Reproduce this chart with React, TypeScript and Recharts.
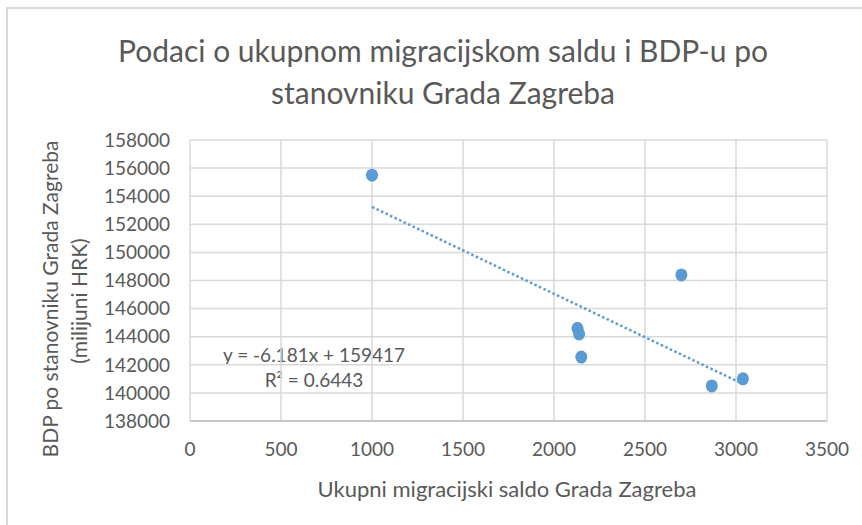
import { CartesianGrid, ReferenceLine, Scatter, ScatterChart, XAxis, YAxis } from "recharts";

const migrationBalance = [1000, 2700, 2129, 2138, 2150, 2867, 3038];
const gdpPerCapita = [155500, 148400, 144600, 144200, 142550, 140500, 141000];
const xTicks = [0, 500, 1000, 1500, 2000, 2500, 3000, 3500];
const yTicks = [138000, 140000, 142000, 144000, 146000, 148000, 150000, 152000, 154000, 156000, 158000];
const trendSlope = -6.181;
const trendIntercept = 159417;
const rSquared = "0.6443";

const FONT = "Lato, 'Open Sans', sans-serif";
const TEXT = "#595959";
const BLUE = "#5B9BD5";

const data = migrationBalance.map((x, i) => ({ x, y: gdpPerCapita[i] }));
const xMin = Math.min(...migrationBalance);
const xMax = Math.max(...migrationBalance);
const trend = [
  { x: xMin, y: trendSlope * xMin + trendIntercept },
  { x: xMax, y: trendSlope * xMax + trendIntercept },
];

const Dot = (props: any) => <ellipse cx={props.cx} cy={props.cy} rx={6} ry={6.5} fill={BLUE} />;

const YTitle = () => (
  <g fill={TEXT} fontFamily={FONT} fontSize={21}>
    <text transform="translate(49,299) rotate(-90)" textAnchor="middle" dominantBaseline="central">
      BDP po stanovniku Grada Zagreba
    </text>
    <text transform="translate(78,301) rotate(-90)" textAnchor="middle" dominantBaseline="central">
      (milijuni HRK)
    </text>
  </g>
);

const XTitle = () => (
  <text x={507} y={488} textAnchor="middle" dominantBaseline="central" fill={TEXT} fontFamily={FONT} fontSize={22}>
    Ukupni migracijski saldo Grada Zagreba
  </text>
);

export default function App() {
  return (
    <div style={{ position: "absolute", left: 0, top: 0, width: 862, height: 525, overflow: "hidden", background: "#fff" }}>
      <div style={{ position: "absolute", left: 6, top: 7, width: 900, height: 600, borderLeft: "2px solid #d9d9d9", borderTop: "2px solid #d9d9d9" }} />
      <div style={{ position: "absolute", left: 0, width: 886, top: 29, textAlign: "center", color: TEXT, fontFamily: FONT, fontSize: 30, lineHeight: "42px" }}>
        Podaci o ukupnom migracijskom saldu i BDP-u po
        <br />
        stanovniku Grada Zagreba
      </div>
      <div style={{ position: "absolute", left: 164, width: 300, top: 342, textAlign: "center", color: TEXT, fontFamily: FONT, fontSize: 19, lineHeight: "25px" }}>
        y = -6.181x + 159417
        <br />
        R² = {rSquared}
      </div>
      <div style={{ position: "absolute", left: 0, top: 0 }}>
        <ScatterChart width={862} height={525} margin={{ top: 140, right: 35, left: 0, bottom: 44 }}>
          <CartesianGrid stroke="#d9d9d9" strokeWidth={1.5} />
          <XAxis
            type="number"
            dataKey="x"
            domain={[0, 3500]}
            ticks={xTicks}
            height={60}
            stroke="#bfbfbf"
            strokeWidth={1.5}
            tickLine={false}
            tickSize={0}
            tickMargin={22}
            tick={{ fill: TEXT, fontFamily: FONT, fontSize: 19 }}
            label={<XTitle />}
          />
          <YAxis
            type="number"
            dataKey="y"
            domain={[138000, 158000]}
            ticks={yTicks}
            width={190}
            axisLine={false}
            tickLine={false}
            tickSize={0}
            tickMargin={20}
            tick={{ fill: TEXT, fontFamily: FONT, fontSize: 19 }}
            label={<YTitle />}
          />
          <ReferenceLine
            segment={trend}
            stroke={BLUE}
            strokeWidth={2.5}
            strokeDasharray="2.5 2.5"
            ifOverflow="visible"
          />
          <Scatter data={data} shape={Dot} isAnimationActive={false} />
        </ScatterChart>
      </div>
    </div>
  );
}
